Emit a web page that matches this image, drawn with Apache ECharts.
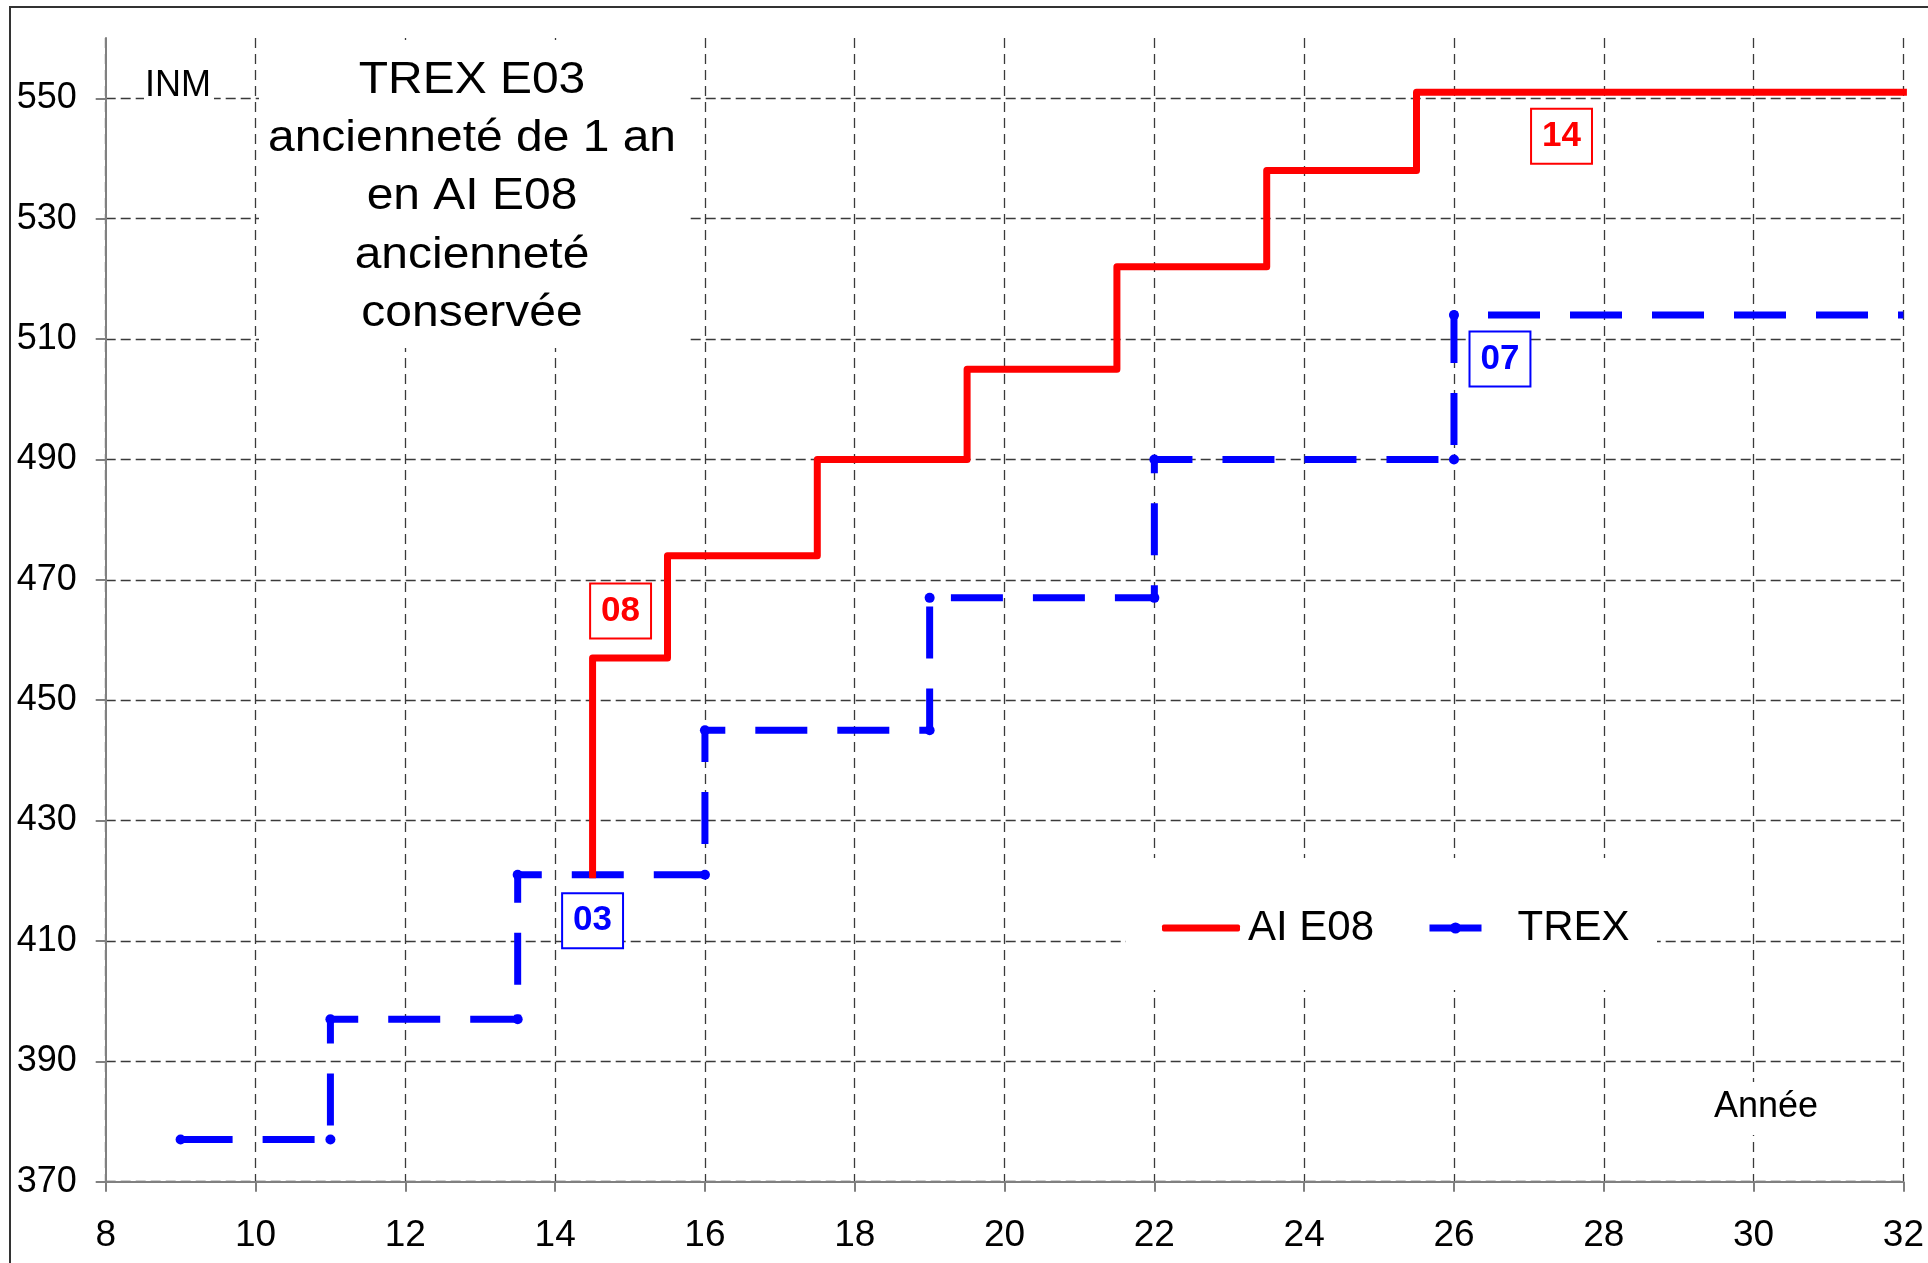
<!DOCTYPE html>
<html>
<head>
<meta charset="utf-8">
<script src="https://cdn.jsdelivr.net/npm/echarts@6/dist/echarts.min.js"></script>
<style>
  html, body { margin: 0; padding: 0; background: #fff; }
  #chart { width: 1928px; height: 1263px; }
</style>
</head>
<body>
<div id="chart"></div>
<script>
// Career steps: year at which each INM index starts to apply
const trexYears = [9, 11, 13.5, 16, 19, 22, 26];
const trexInm   = [377, 397, 421, 445, 467, 490, 514];
const aiYears   = [14.5, 14.5, 15.5, 17.5, 19.5, 21.5, 23.5, 25.5];
const aiInm     = [421, 457, 474, 490, 505, 522, 538, 551];
const endYear   = 32;

// Axis tick labels
const xTickLabels = [8, 10, 12, 14, 16, 18, 20, 22, 24, 26, 28, 30, 32];
const yTickLabels = [370, 390, 410, 430, 450, 470, 490, 510, 530, 550];

// Echelon tags
const aiTags   = ['08', '14'];
const trexTags = ['03', '07'];

const titleLines = ['TREX E03', 'ancienneté de 1 an', 'en AI E08', 'ancienneté', 'conservée'];

const FONT = '"Liberation Sans", Arial, sans-serif';
const RED = '#FF0000';
const BLUE = '#0000FF';

// AI E08 drawn as a step line (horizontal, then vertical)
const aiData = aiYears.map((x, i) => [x, aiInm[i]]);
aiData.push([endYear, aiInm[aiInm.length - 1]]);

// TREX: every corner is an actual point (marked with a dot)
const trexData = [];
trexYears.forEach((x, i) => {
  const next = i + 1 < trexYears.length ? trexYears[i + 1] : endYear;
  trexData.push([x, trexInm[i]]);
  trexData.push([next, trexInm[i]]);
});
const lastTrex = trexData.length - 1;

function tag(text, color, coord, offset) {
  return {
    coord: coord,
    symbol: 'circle',
    symbolSize: 0,
    label: {
      show: true,
      position: 'inside',
      offset: offset,
      formatter: text,
      fontFamily: FONT,
      fontWeight: 'bold',
      fontSize: 35,
      color: color,
      backgroundColor: '#fff',
      borderColor: color,
      borderWidth: 2,
      padding: [9, 10, 9, 10]
    }
  };
}

const chart = echarts.init(document.getElementById('chart'), null, { renderer: 'canvas' });

const gridDash = { color: '#3a3a3a', width: 1.3 };

chart.setOption({
  backgroundColor: '#fff',
  animation: false,
  grid: { left: 105.7, right: 24.6, top: 38.1, bottom: 81.3, containLabel: false },
  xAxis: {
    type: 'value',
    min: 8,
    max: 32,
    interval: 1,
    axisLine: { show: true, onZero: false, lineStyle: { color: '#808080', width: 2 } },
    axisTick: { show: true, customValues: xTickLabels, length: 10, lineStyle: { color: '#808080', width: 2 } },
    axisLabel: {
      customValues: xTickLabels,
      fontFamily: FONT, fontSize: 37, color: '#000', margin: 36
    },
    splitLine: { show: true, lineStyle: Object.assign({ type: [10, 6] }, gridDash) }
  },
  yAxis: {
    type: 'value',
    min: 370,
    max: 560,
    interval: 10,
    axisLine: { show: true, onZero: false, lineStyle: { color: '#808080', width: 2 } },
    axisTick: { show: true, customValues: yTickLabels, length: 10, lineStyle: { color: '#808080', width: 2 } },
    axisLabel: {
      customValues: yTickLabels,
      fontFamily: FONT, fontSize: 36, color: '#000', margin: 29
    },
    splitLine: { show: true, lineStyle: Object.assign({ type: [10, 5] }, gridDash) }
  },
  legend: [
    {
      data: ['AI E08'],
      icon: 'roundRect',
      left: 1162, top: 907,
      padding: 0,
      itemWidth: 78, itemHeight: 7,
      selectedMode: false,
      itemStyle: { color: RED },
      textStyle: { fontFamily: FONT, fontSize: 42, color: '#000', padding: [0, 0, 0, 3] }
    },
    {
      data: ['TREX'],
      left: 1426, top: 907,
      padding: 0,
      itemWidth: 52, itemHeight: 14,
      selectedMode: false,
      lineStyle: { width: 7, type: 'solid' },
      textStyle: { fontFamily: FONT, fontSize: 42, color: '#000', padding: [0, 0, 0, 31] }
    }
  ],
  graphic: [
    // outer chart frame
    { type: 'rect', z: 10, silent: true,
      shape: { x: 10, y: 7, width: 2400, height: 2400 },
      style: { fill: null, stroke: '#333', lineWidth: 2 } },
    // white panel behind the caption
    { type: 'rect', z: 1, silent: true,
      shape: { x: 259, y: 40, width: 431, height: 308 },
      style: { fill: '#fff' } },
    { type: 'text', z: 1, silent: true, x: 472, y: 51.5, scaleX: 1.09,
      style: { text: titleLines.join('\n'), fontFamily: FONT, fontSize: 44, lineHeight: 58.3,
               align: 'center', verticalAlign: 'top', fill: '#000' } },
    // axis unit labels
    { type: 'rect', z: 1, silent: true,
      shape: { x: 144, y: 52, width: 70, height: 62 },
      style: { fill: '#fff' } },
    { type: 'text', z: 1, silent: true, x: 178, y: 86,
      style: { text: 'INM', fontFamily: FONT, fontSize: 36, align: 'center', verticalAlign: 'middle', fill: '#000' } },
    { type: 'rect', z: 1, silent: true,
      shape: { x: 1706, y: 1082, width: 120, height: 53 },
      style: { fill: '#fff' } },
    { type: 'text', z: 1, silent: true, x: 1766, y: 1107,
      style: { text: 'Année', fontFamily: FONT, fontSize: 36, align: 'center', verticalAlign: 'middle', fill: '#000' } },
    // white panel behind the legend
    { type: 'rect', z: 1, silent: true,
      shape: { x: 1126, y: 858, width: 531, height: 132 },
      style: { fill: '#fff' } }
  ],
  series: [
    {
      name: 'AI E08',
      type: 'line',
      step: 'end',
      data: aiData,
      symbol: 'none',
      z: 3,
      lineStyle: { color: RED, width: 7, join: 'round', cap: 'square' },
      itemStyle: { color: RED },
      markPoint: {
        symbol: 'circle',
        symbolSize: 0,
        data: [
          tag(aiTags[0], RED, [aiYears[1], aiInm[1]], [28, -47]),
          tag(aiTags[1], RED, [aiYears[aiYears.length - 1], aiInm[aiInm.length - 1]], [145, 44])
        ]
      }
    },
    {
      name: 'TREX',
      type: 'line',
      data: trexData,
      symbol: 'circle',
      showAllSymbol: true,
      symbolSize: (v, p) => (p.dataIndex === lastTrex ? 0 : 10),
      z: 2,
      lineStyle: { color: BLUE, width: 7, type: [52, 30], cap: 'butt', join: 'miter' },
      itemStyle: { color: BLUE },
      markPoint: {
        symbol: 'circle',
        symbolSize: 0,
        data: [
          tag(trexTags[0], BLUE, [aiYears[0], aiInm[0]], [0, 46]),
          tag(trexTags[1], BLUE, [trexYears[trexYears.length - 1], trexInm[trexInm.length - 1]], [46, 44])
        ]
      }
    }
  ]
});
</script>
</body>
</html>
